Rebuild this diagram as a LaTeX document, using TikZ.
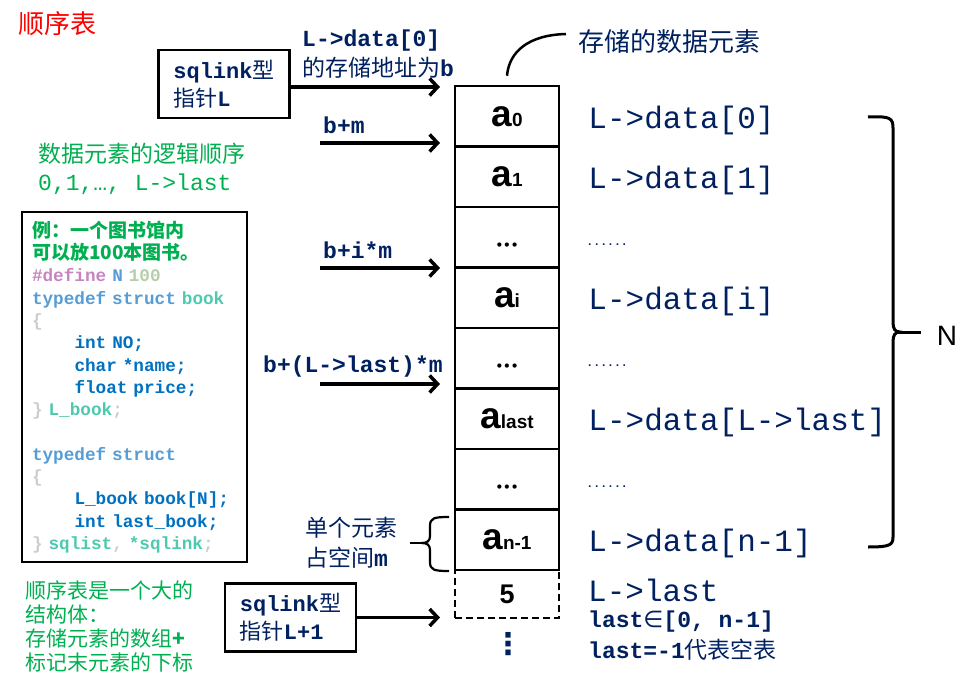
\documentclass[tikz,border=0pt]{standalone}
\usepackage{fontspec}
\usepackage{xcolor}
\usetikzlibrary{positioning,arrows.meta}
\newfontfamily\cjk{Noto Sans CJK SC}
\newfontfamily\mono{Liberation Mono}
\newfontfamily\sans{Liberation Sans}
\newfontfamily\dejavu{DejaVu Sans}
\definecolor{navy}{RGB}{0,32,96}
\definecolor{listgreen}{RGB}{0,176,80}
\definecolor{kwblue}{RGB}{86,156,214}
\definecolor{typeteal}{RGB}{78,201,176}
\definecolor{macropink}{RGB}{197,134,192}
\definecolor{numgreen}{RGB}{181,206,168}
\definecolor{bracegray}{RGB}{205,205,205}
\definecolor{codeblue}{RGB}{0,112,192}
\newcommand{\elem}[1]{{\sans\bfseries\fontsize{37}{37}\selectfont a}{\sans\bfseries\fontsize{19}{19}\selectfont #1}}
\newcommand{\gap}{\raisebox{-12pt}[0pt][0pt]{\dejavu\bfseries\fontsize{12}{12}\selectfont •••}}
\newcommand{\ind}{\hspace*{42.5pt}}
\tikzstyle{cell}=[draw, line width=2.5pt, minimum width=104pt, minimum height=60.5pt, inner sep=0pt]
\tikzstyle{ptrbox}=[draw, line width=2.5pt, minimum width=131pt, minimum height=68pt, align=left, text=navy, font=\mono\bfseries\fontsize{22}{28}\selectfont]
\tikzstyle{ptr}=[-{Straight Barb[length=8pt,width=17pt]}, line width=3.5pt]
\tikzstyle{addr}=[text=navy, font=\mono\bfseries\fontsize{23}{30}\selectfont, inner sep=0pt, anchor=west]
\tikzstyle{lbl}=[text=navy, font=\mono\fontsize{31}{31}\selectfont, inner sep=0pt]
\tikzstyle{dotlbl}=[text=navy, font=\mono\bfseries\fontsize{11.5}{11.5}\selectfont, inner sep=0pt]
\tikzstyle{brace}=[line width=3pt, rounded corners=6pt]

\begin{document}
\begin{tikzpicture}[x=1pt,y=-1pt]
  \useasboundingbox (0,0) rectangle (976,692);
  \draw (18,24) node[anchor=west, text=red, font=\cjk\fontsize{26}{26}\selectfont, inner sep=0pt] (title) {顺序表};

  %% The array cells
  \draw (507,116.25) node[cell] (a0) {\elem{0}};
  \draw (507,176.75) node[cell] (a1) {\elem{1}};
  \draw (507,237.25) node[cell] (d1) {\gap};
  \draw (507,297.75) node[cell] (ai) {\elem{i}};
  \draw (507,358.25) node[cell] (d2) {\gap};
  \draw (507,418.75) node[cell] (alast) {\elem{last}};
  \draw (507,479.25) node[cell] (d3) {\gap};
  \draw (507,539.75) node[cell] (an1) {\elem{n-1}};
  \draw (507,594) node[cell, dashed, dash pattern=on 7pt off 4pt, minimum height=48pt] (lastcell) {{\sans\bfseries\fontsize{27}{27}\selectfont 5}};
  \draw (508,644) node[text=navy, font=\dejavu\bfseries\fontsize{30}{30}\selectfont, inner sep=0pt] (vdots) {⋮};

  \draw (578,42) node[anchor=west, text=navy, font=\cjk\fontsize{26}{26}\selectfont, inner sep=0pt] (store) {存储的数据元素};
  \coordinate (c0) at ([yshift=9pt]a0.north);
  \coordinate (cend) at ([xshift=-12pt,yshift=8pt]store.west);
  \draw[line width=2.5pt] (c0) .. controls (509,52) and (528,35) .. (cend);

  %% Names of the cells
  \node[lbl, right=28pt of a0, yshift=-4pt] (La0) {L->data[0]};
  \node[lbl, right=28pt of a1, yshift=-4pt] (La1) {L->data[1]};
  \node[dotlbl, right=26pt of d1, yshift=-7pt] (dt1) {......};
  \node[lbl, right=28pt of ai, yshift=-4pt] (Lai) {L->data[i]};
  \node[dotlbl, right=26pt of d2, yshift=-7pt] (dt2) {......};
  \node[lbl, right=28pt of alast, yshift=-4pt] (Lalast) {L->data[L->last]};
  \node[dotlbl, right=26pt of d3, yshift=-7pt] (dt3) {......};
  \node[lbl, right=28pt of an1, yshift=-4pt] (Lan1) {L->data[n-1]};
  \draw (588,590) node[lbl, anchor=west] (Llast) {L->last};
  \draw (588,622) node[addr] (lrange) {last{\dejavu\mdseries ∈}[0, n-1]};
  \draw (588,650) node[addr] (lempty) {last=-1{\cjk\mdseries 代表空表}};

  \draw[line width=3pt] (868,117) .. controls (890,116) and (893,118) .. (893,128) -- (893,322)
    .. controls (893,329) and (895,332) .. (900,332) .. controls (895,332) and (893,335) .. (893,342)
    -- (893,537) .. controls (893,545) and (890,547) .. (868,547);
  \draw[line width=3pt] (898,332) -- (921,332);
  \draw (947,336) node[font=\sans\fontsize{28}{28}\selectfont, inner sep=0pt] (N) {N};

  %% Pointers and addresses
  \draw (224,84) node[ptrbox] (pL) {sqlink{\cjk\mdseries 型}\\{\cjk\mdseries 指针}L};
  \draw (302,54) node[addr, align=left] (addr0) {L->data[0]\\{\cjk\mdseries 的存储地址为}b};
  \coordinate (p0) at (440,87);
  \draw[ptr] (pL.east |- p0) -- (p0);

  \draw (323,125) node[addr] (lbm) {b+m};
  \coordinate (bm) at (320,143);
  \coordinate (bmto) at (440,143);
  \draw[ptr] (bm) -- (bmto);

  \draw (323,250) node[addr] (lbim) {b+i*m};
  \coordinate (bim) at (320,268);
  \coordinate (bimto) at (440,268);
  \draw[ptr] (bim) -- (bimto);

  \draw (263,367) node[addr] (lblast) {b+(L->last)*m};
  \coordinate (blast) at (320,384);
  \coordinate (blastto) at (440,384);
  \draw[ptr] (blast) -- (blastto);

  \draw (290.5,617.5) node[ptrbox] (pL1) {sqlink{\cjk\mdseries 型}\\{\cjk\mdseries 指针}L+1};
  \coordinate (p5) at (440,617.5);
  \draw[ptr] (pL1.east) -- (p5);

  \draw (305,543) node[anchor=west, align=left, text=navy, font=\cjk\fontsize{23}{30}\selectfont, inner sep=0pt] (msize) {单个元素\\占空间{\mono\bfseries m}};
  \draw[line width=2.2pt] (449,517) .. controls (434,517) and (430,518) .. (430,526) -- (430,536)
    .. controls (430,541) and (427,543) .. (422,543) .. controls (427,543) and (430,545) .. (430,550)
    -- (430,562) .. controls (430,570) and (434,571) .. (449,571);
  \draw[line width=2.2pt] (424,543) -- (410,543);

  %% Notes on the left
  \draw (38,169) node[anchor=west, align=left, text=listgreen, font=\fontsize{23}{28}\selectfont, inner sep=0pt] (order) {{\cjk 数据元素的逻辑顺序}\\{\mono 0,1,…, L->last}};

  \draw (134.5,387) node[draw, line width=2.5pt, minimum height=350pt, text width=205pt, inner xsep=10pt, align=left, font=\mono\bfseries\fontsize{17.7}{22.3}\selectfont] (code) {%
    {\cjk\fontsize{19}{22.3}\selectfont\color{listgreen} 例：一个图书馆内}\\
    {\cjk\fontsize{19}{22.3}\selectfont\color{listgreen} 可以放100本图书。}\\
    {\color{macropink}\#define} {\color{kwblue}N} {\color{numgreen}100}\\
    {\color{kwblue}typedef struct} {\color{typeteal}book}\\
    {\color{bracegray}\{}\\
    \ind{\color{codeblue}int NO;}\\
    \ind{\color{codeblue}char *name;}\\
    \ind{\color{codeblue}float price;}\\
    {\color{bracegray}\}} {\color{typeteal}L\_book}{\color{bracegray};}\\
    \mbox{}\\
    {\color{kwblue}typedef struct}\\
    {\color{bracegray}\{}\\
    \ind{\color{codeblue}L\_book book[N];}\\
    \ind{\color{codeblue}int last\_book;}\\
    {\color{bracegray}\}} {\color{typeteal}sqlist}{\color{bracegray},} {\color{typeteal}*sqlink}{\color{bracegray};}};

  \draw (25,626.5) node[anchor=west, align=left, text=listgreen, font=\cjk\fontsize{21}{24.3}\selectfont, inner sep=0pt] (note) {顺序表是一个大的\\结构体：\\存储元素的数组{\bfseries +}\\标记末元素的下标};
\end{tikzpicture}
\end{document}
